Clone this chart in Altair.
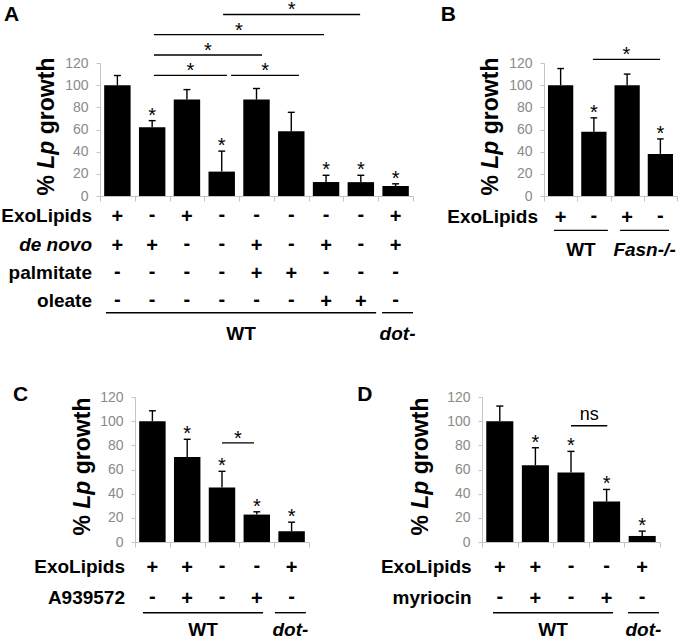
import altair as alt
import pandas as pd

FONT = "Liberation Sans"
AXIS_GREY = "#c4c4c4"
TICK_GREY = "#8a8a8a"

# ---------------- Panel A: lipid sources ----------------
a_growth = [100, 62, 87, 22, 87, 58.5, 12.6, 12.5, 9]
a_err_top = [108.7, 68, 96, 40.5, 97, 75.5, 18.7, 18.7, 11]
a_signif = ["", "*", "", "*", "", "", "*", "*", "*"]
a_row_names = ["ExoLipids", "de novo", "palmitate", "oleate"]
a_exolipids = ["+", "-", "+", "-", "-", "-", "-", "-", "+"]
a_denovo = ["+", "+", "-", "-", "+", "-", "+", "-", "+"]
a_palmitate = ["-", "-", "-", "-", "+", "+", "-", "-", "-"]
a_oleate = ["-", "-", "-", "-", "-", "-", "+", "+", "-"]
a_groups = ["WT", "dot-"]
a_group_from = [0.67, 8.61]
a_group_to = [8.44, 9.5]
a_bracket_from = [2.05, 4.27, 2.05, 2.05, 4.04]
a_bracket_to = [4.15, 6.22, 5.16, 6.94, 7.98]
a_bracket_level = [108.8, 108.8, 127.2, 145.6, 163.8]
a_bracket_text = ["*", "*", "*", "*", "*"]

# ---------------- Panel B: Fasn knockout ----------------
b_growth = [100, 58, 100, 38]
b_err_top = [115, 70.5, 110, 51.5]
b_signif = ["", "*", "", "*"]
b_row_names = ["ExoLipids"]
b_exolipids = ["+", "-", "+", "-"]
b_groups = ["WT", "Fasn-/-"]
b_group_from = [0.8, 2.79]
b_group_to = [2.42, 4.26]
b_bracket_from = [1.97]
b_bracket_to = [3.99]
b_bracket_level = [123.3]
b_bracket_text = ["*"]

# ---------------- Panel C: A939572 ----------------
c_growth = [100, 70.4, 45.2, 22.7, 8.9]
c_err_top = [108.6, 85, 58.5, 25, 16.4]
c_signif = ["", "*", "*", "*", "*"]
c_row_names = ["ExoLipids", "A939572"]
c_exolipids = ["+", "+", "-", "-", "+"]
c_inhibitor = ["-", "+", "-", "+", "-"]
c_groups = ["WT", "dot-"]
c_group_from = [0.73, 4.52]
c_group_to = [4.18, 5.41]
c_bracket_from = [3.0]
c_bracket_to = [3.92]
c_bracket_level = [82]
c_bracket_text = ["*"]

# ---------------- Panel D: myriocin ----------------
d_growth = [100, 63.5, 57.5, 33.5, 5]
d_err_top = [112.5, 78, 75, 43.5, 9]
d_signif = ["", "*", "*", "*", "*"]
d_row_names = ["ExoLipids", "myriocin"]
d_exolipids = ["+", "+", "-", "-", "+"]
d_inhibitor = ["-", "+", "-", "+", "-"]
d_groups = ["WT", "dot-"]
d_group_from = [0.81, 4.6]
d_group_to = [4.18, 5.47]
d_bracket_from = [3.0]
d_bracket_to = [4.02]
d_bracket_level = [96.2]
d_bracket_text = ["ns"]

# group label pieces: (text, italic, dx from the label centre, align)
GROUP_PARTS = {
    "WT": [("WT", False, 0, "center")],
    "dot-": [("dot-", True, 0, "center")],
    "Fasn-/-": [("Fasn", True, -31.2, "left"), ("-/-", True, 13.2, "left")],
}

one_row = pd.DataFrame({"k": [0]})


def txt(text, x, y, size=19, weight="bold", style="normal", align="left",
        baseline="alphabetic", angle=0):
    return alt.Chart(one_row).mark_text(
        text=text, font=FONT, fontSize=size, fontWeight=weight, fontStyle=style,
        align=align, baseline=baseline, angle=angle, color="black",
    ).encode(x=alt.value(x), y=alt.value(y))


def build_panel(growth, err_top, signif, rows, groups, group_from, group_to,
                br_from, br_to, br_level, br_text, lay, anchor=False):
    n = len(growth)
    xs = alt.Scale(domain=[0.5, n + 0.5], range=[lay["x0"], lay["w"]], nice=False, zero=False)
    ys = alt.Scale(domain=[0, 120], nice=False)
    x_axis = alt.Axis(values=[k + 0.5 for k in range(n + 1)], labels=False, tickSize=5,
                      domainColor=AXIS_GREY, tickColor=AXIS_GREY, grid=False, title=None)
    y_axis = alt.Axis(values=[0, 20, 40, 60, 80, 100, 120], offset=-lay["x0"], tickSize=4,
                      labelPadding=8, labelFont=FONT, labelFontSize=14, labelColor=TICK_GREY,
                      labelOverlap=False, labelFlush=False,
                      domainColor=AXIS_GREY, tickColor=AXIS_GREY, grid=False, title=None)

    def X(field):
        return alt.X(field, type="quantitative", scale=xs, axis=x_axis)

    def Y(field):
        return alt.Y(field, type="quantitative", scale=ys, axis=y_axis)

    layers = []
    if anchor:
        # transparent frame fixing the figure extent
        layers.append(alt.Chart(one_row).mark_rect(opacity=0).encode(
            x=alt.value(-100), x2=alt.value(580), y=alt.value(-60.3), y2=alt.value(577.7)))

    bars_df = pd.DataFrame({"pos": list(range(1, n + 1)), "growth": growth,
                            "top": err_top, "sig": signif})
    base = alt.Chart(bars_df).transform_calculate(
        left="datum.pos - 0.38", right="datum.pos + 0.38",
        capl="datum.pos - 0.1", capr="datum.pos + 0.1")
    layers.append(base.mark_rect(color="black").encode(
        x=X("left"), x2="right:Q", y=Y("growth"), y2=alt.datum(0)))
    layers.append(base.mark_rule(color="black", strokeWidth=1.4).encode(
        x=X("pos"), y=Y("growth"), y2="top:Q"))
    layers.append(base.mark_rule(color="black", strokeWidth=1.4).encode(
        x=X("capl"), x2="capr:Q", y=Y("top")))
    layers.append(base.transform_filter("datum.sig != ''").mark_text(
        font=FONT, fontSize=20, baseline="alphabetic", dy=1, color="black").encode(
        x=X("pos"), y=Y("top"), text="sig:N"))

    # significance brackets
    br_df = pd.DataFrame({"a": br_from, "b": br_to, "lvl": br_level, "t": br_text})
    br = alt.Chart(br_df).transform_calculate(mid="(datum.a + datum.b) / 2")
    layers.append(br.mark_rule(color="black", strokeWidth=1.4).encode(
        x=X("a"), x2="b:Q", y=Y("lvl")))
    layers.append(br.transform_filter("datum.t == '*'").mark_text(
        font=FONT, fontSize=20, baseline="alphabetic", dy=2, color="black").encode(
        x=X("mid"), y=Y("lvl"), text="t:N"))
    layers.append(br.transform_filter("datum.t != '*'").mark_text(
        font=FONT, fontSize=18, baseline="alphabetic", dy=-6, color="black").encode(
        x=X("mid"), y=Y("lvl"), text="t:N"))

    # treatment table under the bars
    for (name, italic, symbols), ypx in zip(rows, lay["rows_y"]):
        sym_df = pd.DataFrame({"pos": list(range(1, n + 1)), "s": symbols})
        for sym, dy in (("+", lay["plus_dy"]), ("-", lay["minus_dy"])):
            layers.append(alt.Chart(sym_df).transform_filter(f"datum.s == '{sym}'").mark_text(
                font=FONT, fontSize=20, fontWeight="bold", baseline="alphabetic",
                dy=dy, color="black").encode(
                x=X("pos"), y=alt.value(ypx), text="s:N"))
        layers.append(txt(name, lay["label_x"], ypx, style="italic" if italic else "normal",
                          align="right"))

    # genotype underlines and labels
    grp_df = pd.DataFrame({"g": groups, "a": group_from, "b": group_to})
    layers.append(alt.Chart(grp_df).mark_rule(color="black", strokeWidth=1.4).encode(
        x=X("a"), x2="b:Q", y=alt.value(lay["line_y"])))
    for g in groups:
        for text, italic, dx, align in GROUP_PARTS[g]:
            layers.append(alt.Chart(grp_df).transform_filter(f"datum.g == '{g}'")
                          .transform_calculate(mid="(datum.a + datum.b) / 2").mark_text(
                text=text, font=FONT, fontSize=19, fontWeight="bold",
                fontStyle="italic" if italic else "normal", align=align, dx=dx,
                baseline="alphabetic", color="black").encode(
                x=X("mid"), y=alt.value(lay["group_y"])))

    # rotated y title: "% Lp growth" with italic Lp
    start = lay["h"] / 2 - 3 + 69
    layers.append(txt("%", lay["title_x"], start, size=23, angle=270))
    layers.append(txt("Lp", lay["title_x"], start - 26.8, size=23, style="italic", angle=270))
    layers.append(txt("growth", lay["title_x"], start - 61.3, size=23, angle=270))

    # panel letter
    layers.append(txt(lay["letter"], lay["letter_x"], lay["letter_y"], size=21))

    return alt.layer(*layers).properties(width=lay["w"], height=lay["h"])


lay_a = dict(x0=0, w=313, h=133, letter="A", letter_x=-96, letter_y=-42, title_x=-46.3,
             label_x=-8, rows_y=[159.2, 187.7, 216.2, 243.7], plus_dy=1, minus_dy=-1,
             line_y=249.7, group_y=276.7)
lay_b = dict(x0=62, w=195, h=133, letter="B", letter_x=-41.3, letter_y=-42, title_x=15.7,
             label_x=56, rows_y=[159.7], plus_dy=1, minus_dy=-1, line_y=167.4, group_y=193)
lay_c = dict(x0=35, w=209, h=145, letter="C", letter_x=-87, letter_y=4, title_x=-9.7,
             label_x=25, rows_y=[175.7, 207.4], plus_dy=1, minus_dy=-1, line_y=215.7,
             group_y=238.5)
lay_d = dict(x0=0, w=178, h=145, letter="D", letter_x=-124.7, letter_y=4, title_x=-54.3,
             label_x=-10.3, rows_y=[175.7, 207.4], plus_dy=1, minus_dy=-1, line_y=215.7,
             group_y=238.5)

panel_a = build_panel(
    a_growth, a_err_top, a_signif,
    [(a_row_names[0], False, a_exolipids), (a_row_names[1], True, a_denovo),
     (a_row_names[2], False, a_palmitate), (a_row_names[3], False, a_oleate)],
    a_groups, a_group_from, a_group_to,
    a_bracket_from, a_bracket_to, a_bracket_level, a_bracket_text, lay_a, anchor=True)
panel_b = build_panel(
    b_growth, b_err_top, b_signif, [(b_row_names[0], False, b_exolipids)],
    b_groups, b_group_from, b_group_to,
    b_bracket_from, b_bracket_to, b_bracket_level, b_bracket_text, lay_b)
panel_c = build_panel(
    c_growth, c_err_top, c_signif,
    [(c_row_names[0], False, c_exolipids), (c_row_names[1], False, c_inhibitor)],
    c_groups, c_group_from, c_group_to,
    c_bracket_from, c_bracket_to, c_bracket_level, c_bracket_text, lay_c)
panel_d = build_panel(
    d_growth, d_err_top, d_signif,
    [(d_row_names[0], False, d_exolipids), (d_row_names[1], False, d_inhibitor)],
    d_groups, d_group_from, d_group_to,
    d_bracket_from, d_bracket_to, d_bracket_level, d_bracket_text, lay_d)

chart = alt.concat(
    panel_a, panel_b, panel_c, panel_d, columns=2,
    spacing={"row": 201, "column": 69}, bounds="flush", align="each",
).properties(padding=0).configure_view(strokeWidth=0).configure_axis(labelOverlap=False)

chart.save("out.html", embed_options={"renderer": "svg", "actions": False})
